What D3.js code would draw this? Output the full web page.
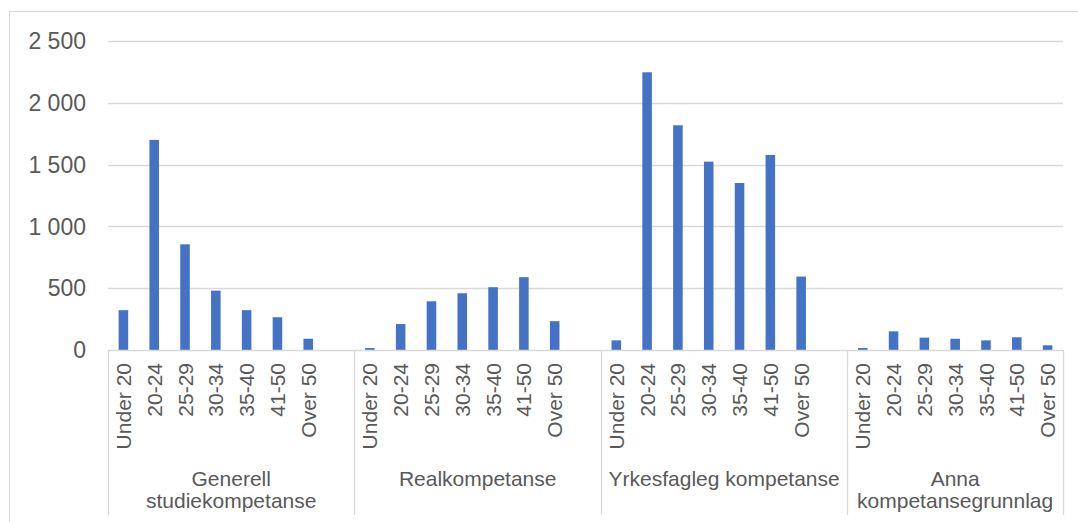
<!DOCTYPE html>
<html>
<head>
<meta charset="utf-8">
<script src="https://cdn.jsdelivr.net/npm/d3@7"></script>
<style>
  html, body { margin: 0; padding: 0; background: #fff; }
  svg { display: block; font-family: "Liberation Sans", Arial, sans-serif; }
</style>
</head>
<body>
<svg id="chart" width="1078" height="522"></svg>
<script>
// ---- data ----
const groups = [
  ["Generell", "studiekompetanse"],
  ["Realkompetanse"],
  ["Yrkesfagleg kompetanse"],
  ["Anna", "kompetansegrunnlag"]
];
const ages = ["Under 20", "20-24", "25-29", "30-34", "35-40", "41-50", "Over 50"];
const generell = [322, 1700, 855, 480, 322, 265, 91];
const real = [16, 210, 394, 459, 508, 589, 233];
const yrkesfag = [78, 2247, 1818, 1524, 1351, 1578, 594];
const anna = [16, 151, 100, 91, 78, 103, 38];
const seriesValues = [generell, real, yrkesfag, anna];
const yTicks = [0, 500, 1000, 1500, 2000, 2500];

(function () {
  const svg = d3.select("#chart");
  const plotLeft = 108, plotRight = 1063, plotTop = 41, zeroY = 350;
  const grey = "#595959", lineCol = "#d9d9d9";

  // slot list: 7 ages per group, blank slot between groups
  const slots = [];
  const data = [];
  groups.forEach((g, gi) => {
    ages.forEach((a, ai) => {
      const key = gi + "|" + a;
      slots.push(key);
      data.push({ key, group: gi, age: a, value: seriesValues[gi][ai] });
    });
    if (gi < groups.length - 1) slots.push("gap" + gi);
  });

  const x = d3.scaleBand().domain(slots).range([plotLeft, plotRight])
    .paddingInner(0.69).paddingOuter(0.345);
  const step = x.step();
  const y = d3.scaleLinear().domain([0, 2500]).range([zeroY, plotTop]);

  const fmt = d3.formatLocale({ decimal: ",", thousands: "\u00a0", grouping: [3], currency: ["", ""] }).format(",d");

  // outer chart border
  svg.append("rect").attr("x", 9.5).attr("y", 11.5).attr("width", 1200).attr("height", 700)
    .attr("fill", "none").attr("stroke", lineCol).attr("stroke-width", 1);

  // gridlines
  svg.append("g").selectAll("line").data(yTicks.filter(d => d > 0)).join("line")
    .attr("x1", plotLeft).attr("x2", plotRight)
    .attr("y1", d => Math.round(y(d)) + 0.5).attr("y2", d => Math.round(y(d)) + 0.5)
    .attr("stroke", lineCol).attr("stroke-width", 1.3);

  // y labels
  svg.append("g").selectAll("text").data(yTicks).join("text")
    .attr("x", 86).attr("y", d => y(d)).attr("dy", "0.36em")
    .attr("text-anchor", "end").attr("font-size", 23).attr("fill", grey)
    .text(d => fmt(d));

  // bars
  svg.append("g").selectAll("rect").data(data).join("rect")
    .attr("x", d => x(d.key)).attr("width", x.bandwidth())
    .attr("y", d => y(d.value)).attr("height", d => y(0) - y(d.value))
    .attr("fill", "#4472C4");

  // baseline
  svg.append("line").attr("x1", plotLeft).attr("x2", plotRight)
    .attr("y1", zeroY + 0.5).attr("y2", zeroY + 0.5)
    .attr("stroke", lineCol).attr("stroke-width", 1.3);

  // group boundaries: end of each gap slot
  const bounds = [plotLeft];
  groups.forEach((g, gi) => {
    if (gi < groups.length - 1) {
      const gapCenter = x("gap" + gi) + x.bandwidth() / 2;
      bounds.push(gapCenter + step / 2);
    }
  });
  bounds.push(plotRight);
  svg.append("g").selectAll("line").data(bounds).join("line")
    .attr("x1", d => Math.round(d) + 0.5).attr("x2", d => Math.round(d) + 0.5)
    .attr("y1", zeroY).attr("y2", 515)
    .attr("stroke", lineCol).attr("stroke-width", 1.3);

  // age labels
  svg.append("g").selectAll("text").data(data).join("text")
    .attr("transform", d => `translate(${x(d.key) + x.bandwidth() / 2},363) rotate(-90)`)
    .attr("dy", "0.36em").attr("text-anchor", "end")
    .attr("font-size", 21).attr("fill", grey)
    .text(d => d.age);

  // group labels
  groups.forEach((g, gi) => {
    const cx = (bounds[gi] + bounds[gi + 1]) / 2;
    const t = svg.append("text").attr("text-anchor", "middle")
      .attr("font-size", 21).attr("fill", grey);
    g.forEach((line, li) => {
      t.append("tspan").attr("x", cx).attr("y", 486 + li * 22).text(line);
    });
  });
})();
</script>
</body>
</html>
